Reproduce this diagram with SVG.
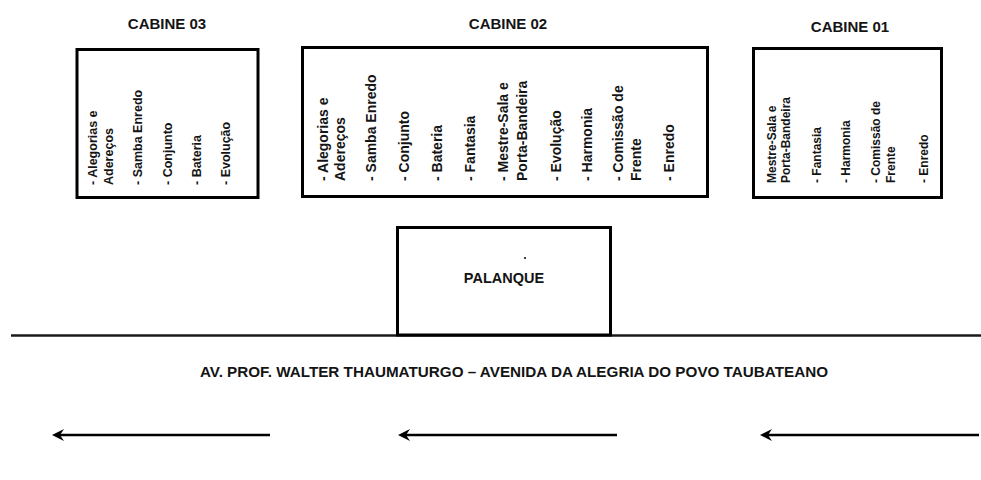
<svg xmlns="http://www.w3.org/2000/svg" width="981" height="480" viewBox="0 0 981 480">
<style>
  text { font-family: "Liberation Sans", Arial, sans-serif; font-weight: bold; fill: #141414; }
  .box { fill: #ffffff; stroke: #000000; stroke-width: 3; }
  .title { font-size: 15px; text-anchor: middle; }
  .v3 { font-size: 12.5px; }
  .v2 { font-size: 14px; }
  .v1 { font-size: 12px; }
  .road { stroke: #1a1a1a; stroke-width: 2.5; fill: none; }
  .arrow { stroke: #000000; stroke-width: 2.5; fill: none; marker-end: url(#head); }
</style>
<defs>
  <marker id="head" markerUnits="userSpaceOnUse" viewBox="0 0 12 12" markerWidth="12" markerHeight="12" refX="8" refY="6" orient="auto">
    <path d="M0,0 L12,6 L0,12 L4,6 Z" fill="#000000"/>
  </marker>
</defs>
<rect width="981" height="480" fill="#ffffff"/>

<g id="road">
  <line class="road" x1="11" y1="335.5" x2="981" y2="335.5"/>
  <text x="514" y="377" font-size="14" text-anchor="middle" textLength="628" lengthAdjust="spacingAndGlyphs">AV. PROF. WALTER THAUMATURGO – AVENIDA DA ALEGRIA DO POVO TAUBATEANO</text>
</g>

<g id="cabine03">
  <text class="title" x="167" y="29">CABINE 03</text>
  <rect class="box" x="77" y="49.5" width="181" height="148"/>
  <text class="v3" transform="translate(97,185) rotate(-90)">- Alegorias e</text>
  <text class="v3" transform="translate(113,185) rotate(-90)">Adereços</text>
  <text class="v3" transform="translate(142,185) rotate(-90)">- Samba Enredo</text>
  <text class="v3" transform="translate(172,185) rotate(-90)">- Conjunto</text>
  <text class="v3" transform="translate(201,185) rotate(-90)">- Bateria</text>
  <text class="v3" transform="translate(230,185) rotate(-90)">- Evolução</text>
</g>

<g id="cabine02">
  <text class="title" x="508" y="29">CABINE 02</text>
  <rect class="box" x="302.5" y="47.5" width="405" height="149"/>
  <text class="v2" transform="translate(328,181) rotate(-90)">- Alegorias e</text>
  <text class="v2" transform="translate(345,181) rotate(-90)">Adereços</text>
  <text class="v2" transform="translate(376,181) rotate(-90)">- Samba Enredo</text>
  <text class="v2" transform="translate(409,181) rotate(-90)">- Conjunto</text>
  <text class="v2" transform="translate(442,181) rotate(-90)">- Bateria</text>
  <text class="v2" transform="translate(475,181) rotate(-90)">- Fantasia</text>
  <text class="v2" transform="translate(508,181) rotate(-90)">- Mestre-Sala e</text>
  <text class="v2" transform="translate(527,181) rotate(-90)">Porta-Bandeira</text>
  <text class="v2" transform="translate(561,181) rotate(-90)">- Evolução</text>
  <text class="v2" transform="translate(592,181) rotate(-90)">- Harmonia</text>
  <text class="v2" transform="translate(623,181) rotate(-90)">- Comissão de</text>
  <text class="v2" transform="translate(641,181) rotate(-90)">Frente</text>
  <text class="v2" transform="translate(674,181) rotate(-90)">- Enredo</text>
</g>

<g id="cabine01">
  <text class="title" x="850" y="31.5">CABINE 01</text>
  <rect class="box" x="753.5" y="48.5" width="188" height="149"/>
  <text class="v1" transform="translate(776,183) rotate(-90)">Mestre-Sala e</text>
  <text class="v1" transform="translate(790,183) rotate(-90)">Porta-Bandeira</text>
  <text class="v1" transform="translate(821,183) rotate(-90)">- Fantasia</text>
  <text class="v1" transform="translate(850,183) rotate(-90)">- Harmonia</text>
  <text class="v1" transform="translate(880,183) rotate(-90)">- Comissão de</text>
  <text class="v1" transform="translate(895,183) rotate(-90)">Frente</text>
  <text class="v1" transform="translate(928,183) rotate(-90)">- Enredo</text>
</g>

<g id="palanque">
  <rect class="box" x="397.5" y="227.5" width="213" height="107.5"/>
  <circle cx="525" cy="258" r="1.1" fill="#141414"/>
  <text x="504" y="283" font-size="14.5" text-anchor="middle">PALANQUE</text>
</g>

<g id="connectors">
  <line class="arrow" x1="270" y1="435" x2="56" y2="435"/>
  <line class="arrow" x1="617" y1="435" x2="402" y2="435"/>
  <line class="arrow" x1="979" y1="435" x2="764" y2="435"/>
</g>
</svg>
